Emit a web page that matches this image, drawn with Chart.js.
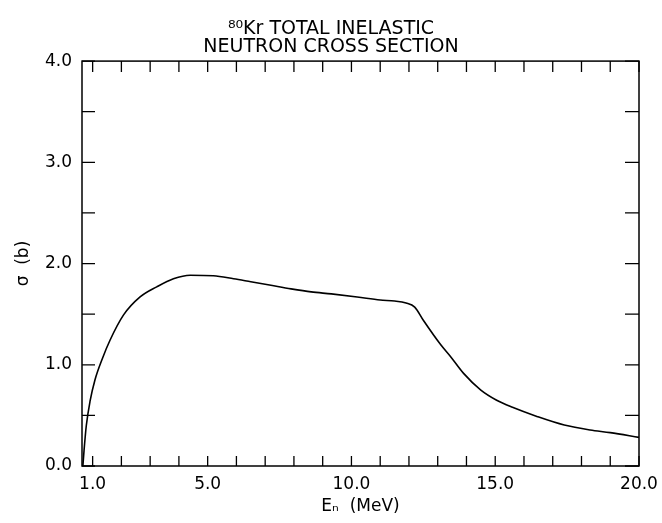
<!DOCTYPE html>
<html>
<head>
<meta charset="utf-8">
<title>80Kr total inelastic neutron cross section</title>
<script src="https://cdn.jsdelivr.net/npm/chart.js@4/dist/chart.umd.min.js"></script>
<style>
  html, body { margin: 0; padding: 0; background: #fff; }
  #wrap { width: 662px; height: 523px; position: relative; }
</style>
</head>
<body>
<div id="wrap"><canvas id="xsChart"></canvas></div>
<script>
/* ---------- data ---------- */

// neutron energy, MeV
const energyMeV = [0.66, 0.70, 0.78, 0.91, 1.08, 1.35, 1.60, 2.07, 2.65, 3.23,
                   3.81, 4.39, 5.20, 5.90, 6.50, 7.20, 7.90, 8.60, 9.30, 10.20,
                   11.00, 11.50, 11.90, 12.20, 12.50, 13.10, 13.45, 13.90, 14.50, 15.05,
                   15.60, 16.45, 17.40, 18.30, 19.00, 20.00];

// total inelastic cross section, barns
const sigmaBarn = [0.00, 0.15, 0.40, 0.64, 0.85, 1.07, 1.24, 1.49, 1.67, 1.77,
                   1.85, 1.885, 1.88, 1.85, 1.82, 1.785, 1.75, 1.72, 1.70, 1.67,
                   1.64, 1.63, 1.61, 1.57, 1.44, 1.20, 1.08, 0.915, 0.75, 0.65,
                   0.58, 0.49, 0.405, 0.356, 0.33, 0.283];

const xTickValues = [1,2,3,4,5,6,7,8,9,10,11,12,13,14,15,16,17,18,19,20];
const xTickLabels = [1, 5, 10, 15, 20];
const yTickValues = [0, 0.5, 1, 1.5, 2, 2.5, 3, 3.5, 4];
const yTickLabels = [0, 1, 2, 3, 4];

const titleLines = ["\u2078\u2070Kr TOTAL INELASTIC", "NEUTRON CROSS SECTION"];
const xTitle = "E\u2099  (MeV)";
const yTitle = "\u03c3  (b)";

/* ---------- frame + inward ticks ---------- */

const frameTicks = {
  id: "frameTicks",
  afterDraw(chart) {
    const { ctx, chartArea: a, scales } = chart;
    ctx.save();
    ctx.strokeStyle = "#000";
    ctx.lineWidth = 1.5;
    ctx.strokeRect(a.left, a.top, a.right - a.left, a.bottom - a.top);

    ctx.lineWidth = 1.3;
    ctx.beginPath();
    xTickValues.forEach(v => {
      const px = scales.x.getPixelForValue(v);
      ctx.moveTo(px, a.bottom); ctx.lineTo(px, a.bottom - 10);
      ctx.moveTo(px, a.top);    ctx.lineTo(px, a.top + 11);
    });
    yTickValues.forEach(v => {
      const py = scales.y.getPixelForValue(v);
      ctx.moveTo(a.left, py);  ctx.lineTo(a.left + 13, py);
      ctx.moveTo(a.right, py); ctx.lineTo(a.right - 14, py);
    });
    ctx.stroke();
    ctx.restore();
  }
};

/* ---------- chart ---------- */

Chart.defaults.color = "#000";
Chart.defaults.font.family = "'DejaVu Sans', sans-serif";

const points = energyMeV.map((e, i) => ({ x: e, y: sigmaBarn[i] }));

new Chart(document.getElementById("xsChart"), {
  type: "line",
  data: {
    datasets: [{
      data: points,
      borderColor: "#000",
      borderWidth: 1.6,
      pointRadius: 0,
      fill: false,
      cubicInterpolationMode: "monotone"
    }]
  },
  options: {
    responsive: true,
    maintainAspectRatio: false,
    animation: false,
    layout: { padding: 0 },
    plugins: {
      legend: { display: false },
      tooltip: { enabled: false },
      title: {
        display: true,
        text: titleLines,
        color: "#000",
        font: { size: 19, weight: "normal", lineHeight: 0.95 },
        padding: { top: 20, bottom: 5 }
      }
    },
    scales: {
      x: {
        type: "linear",
        min: 0.63,
        max: 20,
        grid: { display: false, drawTicks: false },
        border: { display: false },
        afterBuildTicks: s => { s.ticks = xTickValues.map(v => ({ value: v })); },
        afterFit: s => { s.height = 57; s.paddingRight = 23; },
        ticks: {
          autoSkip: false,
          maxRotation: 0,
          padding: 8,
          font: { size: 17 },
          callback: v => xTickLabels.includes(v) ? v.toFixed(1) : ""
        },
        title: {
          display: true,
          text: xTitle,
          font: { size: 17 },
          padding: { top: 0, bottom: 6 }
        }
      },
      y: {
        min: 0,
        max: 4,
        grid: { display: false, drawTicks: false },
        border: { display: false },
        afterBuildTicks: s => { s.ticks = yTickValues.map(v => ({ value: v })); },
        afterFit: s => { s.width = 82; },
        ticks: {
          autoSkip: false,
          padding: 10,
          font: { size: 17 },
          callback: v => yTickLabels.includes(v) ? v.toFixed(1) : ""
        },
        title: {
          display: true,
          text: yTitle,
          font: { size: 17 },
          padding: { top: 13, bottom: 2 }
        }
      }
    }
  },
  plugins: [frameTicks]
});
</script>
</body>
</html>
